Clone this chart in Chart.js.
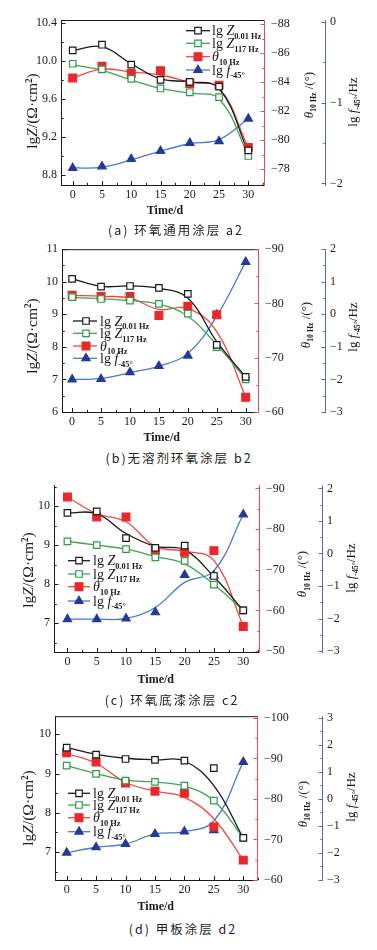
<!DOCTYPE html>
<html lang="zh">
<head>
<meta charset="utf-8">
<title>EIS parameters vs time</title>
<script src="https://cdn.jsdelivr.net/npm/chart.js@4.4.1/dist/chart.umd.min.js"></script>
<style>
  html, body { margin:0; padding:0; background:#fff; }
  body { position:relative; width:377px; height:950px; overflow:hidden; }
  canvas { position:absolute; left:0; }
  .cap { position:absolute; white-space:nowrap; transform:translate(-50%,-50%); line-height:16px;
         font-family:"Noto Sans CJK SC", sans-serif; font-size:12.5px; letter-spacing:2px; color:#222; }
</style>
</head>
<body>
<canvas id="ca" width="377" height="222" style="top:0px"></canvas>
<canvas id="cb" width="377" height="212" style="top:236px"></canvas>
<canvas id="cc" width="377" height="218" style="top:472px"></canvas>
<canvas id="cd" width="377" height="215" style="top:703px"></canvas>
<div class="cap" style="left:176px;top:230px">(a) 环氧通用涂层 a2</div>
<div class="cap" style="left:179px;top:458px">(b)无溶剂环氧涂层 b2</div>
<div class="cap" style="left:172px;top:700px">(c) 环氧底漆涂层 c2</div>
<div class="cap" style="left:183px;top:929px">(d) 甲板涂层 d2</div>
<script>
// ─── Data ─────────────────────────────────────────────────────────────────────
const days   = [0, 5, 10, 15, 20, 25, 30];
const xTicks = [0, 5, 10, 15, 20, 25, 30];

// (a) 环氧通用涂层 a2
const aZ001    = [10.11, 10.17, 9.96, 9.80, 9.78, 9.73, 9.06];
const aZ001Fit = [10.11, 10.15, 9.97, 9.81, 9.78, 9.71, 9.04];
const aZ117    = [9.97, 9.91, 9.81, 9.71, 9.67, 9.62, 9.00];
const aZ117Fit = [9.96, 9.90, 9.80, 9.71, 9.66, 9.60, 9.01];
const aTh      = [-84.3, -85.1, -84.6, -84.8, -83.9, -83.8, -79.5];
const aThFit   = [-84.3, -84.9, -84.7, -84.5, -84.0, -83.6, -79.5];
const aF       = [-1.81, -1.79, -1.70, -1.60, -1.50, -1.48, -1.20];
const aFFit    = [-1.81, -1.80, -1.71, -1.60, -1.51, -1.46, -1.20];
const aZTicks  = [8.8, 9.2, 9.6, 10.0, 10.4];
const aThTicks = [-88, -86, -84, -82, -80, -78];
const aFTicks  = [-2, -1, 0];

// (b) 无溶剂环氧涂层 b2
const bZ001    = [10.09, 9.85, 9.87, 9.81, 9.63, 8.06, 7.08];
const bZ001Fit = [10.09, 9.86, 9.87, 9.80, 9.50, 8.16, 7.08];
const bZ117    = [9.53, 9.47, 9.42, 9.32, 9.02, 7.99, 7.00];
const bZ117Fit = [9.52, 9.48, 9.42, 9.31, 8.94, 8.06, 7.02];
const bTh      = [-81.5, -81.3, -81.3, -77.8, -79.5, -77.9, -62.7];
const bThFit   = [-81.5, -81.3, -81.0, -78.9, -79.1, -74.8, -62.8];
const bF       = [-2.00, -1.99, -1.78, -1.59, -1.27, -0.01, 1.61];
const bFFit    = [-2.00, -1.97, -1.79, -1.59, -1.20, -0.05, 1.61];
const bZTicks  = [6, 7, 8, 9, 10, 11];
const bThTicks = [-90, -80, -70, -60];
const bFTicks  = [-3, -2, -1, 0, 1, 2];

// (c) 环氧底漆涂层 c2
const cZ001    = [9.83, 9.87, 9.18, 8.93, 8.99, 8.21, 7.33];
const cZ001Fit = [9.83, 9.81, 9.30, 8.97, 8.88, 8.19, 7.33];
const cZ117    = [9.10, 9.00, 8.90, 8.69, 8.60, 7.99, 7.33];
const cZ117Fit = [9.10, 9.00, 8.90, 8.71, 8.52, 7.99, 7.33];
const cTh      = [-87.9, -83.0, -83.0, -74.7, -74.3, -74.7, -56.0];
const cThFit   = [-87.9, -83.8, -81.8, -75.7, -74.6, -72.3, -56.2];
const cF       = [-2.02, -2.02, -2.00, -1.81, -0.66, -0.68, 1.20];
const cFFit    = [-2.02, -2.02, -2.00, -1.66, -0.89, -0.53, 1.20];
const cZTicks  = [7, 8, 9, 10];
const cThTicks = [-90, -80, -70, -60, -50];
const cFTicks  = [-3, -2, -1, 0, 1, 2];

// (d) 甲板涂层 d2
const dZ001    = [9.66, 9.48, 9.37, 9.35, 9.33, 9.14, 7.36];
const dZ001Fit = [9.66, 9.49, 9.39, 9.35, 9.32, 8.69, 7.36];
const dZ117    = [9.20, 8.99, 8.82, 8.79, 8.69, 8.31, 7.36];
const dZ117Fit = [9.20, 9.00, 8.83, 8.78, 8.68, 8.31, 7.36];
const dTh      = [-91.4, -89.1, -83.9, -81.9, -81.4, -73.1, -64.9];
const dThFit   = [-91.2, -88.8, -84.1, -81.9, -80.4, -75.1, -64.9];
const dF       = [-1.99, -1.79, -1.67, -1.30, -1.21, -1.16, 1.36];
const dFFit    = [-1.99, -1.79, -1.67, -1.30, -1.21, -0.82, 1.36];
const dZTicks  = [7, 8, 9, 10];
const dThTicks = [-100, -90, -80, -70, -60];
const dFTicks  = [-3, -2, -1, 0, 1, 2, 3];

// ─── Styles ───────────────────────────────────────────────────────────────────
const SERIF = '"Liberation Serif", "DejaVu Serif", serif';
const INK = '#1a1a1a';
const RED_AX = '#e85050', BLUE_AX = '#4a6fb8';
const ST = {
  z001: { line:INK,       edge:INK,       fill:'#fff',    shape:'rect',     r:4.6 },
  z117: { line:'#3aa655', edge:'#2f9a4a', fill:'#fff',    shape:'rect',     r:4.6 },
  th:   { line:'#ee4a3c', edge:'#e8282a', fill:'#e8282a', shape:'rect',     r:5.5 },
  f:    { line:'#4a7acc', edge:'#26389a', fill:'#26389a', shape:'triangle', r:4.8 },
};
const LEG_TXT = {
  z001: [{t:'lg '}, {t:'Z', i:1}, {t:'0.01 Hz', sub:1}],
  z117: [{t:'lg '}, {t:'Z', i:1}, {t:'117 Hz', sub:1}],
  th:   [{t:'θ', i:1}, {t:'10 Hz', sub:1}],
  f:    [{t:'lg '}, {t:'f', i:1}, {t:'-45°', sub:1}],
};
const T_LEFT = [{t:'lg'}, {t:'Z', i:1}, {t:'/(Ω·cm'}, {t:'2', sup:1}, {t:')'}];
const T_RED  = [{t:'θ', i:1}, {t:'10 Hz', sub:1}, {t:' /(°)'}];
const T_BLUE = [{t:'lg '}, {t:'f', i:1}, {t:'-45°', sub:1}, {t:'/Hz'}];

// ─── Rich text helpers ────────────────────────────────────────────────────────
function pFont(p, size) {
  const sz = (p.sub || p.sup) ? size * 0.6 : size;
  return (p.i ? 'italic ' : '') + ((p.sub || p.sup) ? 'bold ' : '') + sz + 'px ' + SERIF;
}
function richWidth(ctx, parts, size) {
  let w = 0;
  parts.forEach(p => { ctx.font = pFont(p, size); w += ctx.measureText(p.t).width; });
  return w;
}
function drawRich(ctx, parts, x, y, size, center) {
  ctx.textAlign = 'left'; ctx.textBaseline = 'alphabetic';
  let cx = center ? x - richWidth(ctx, parts, size) / 2 : x;
  parts.forEach(p => {
    ctx.font = pFont(p, size);
    const dy = p.sub ? size * 0.28 : p.sup ? -size * 0.38 : 0;
    ctx.fillText(p.t, cx, y + dy);
    cx += ctx.measureText(p.t).width;
  });
}
function drawRotated(ctx, parts, cx, cy, size) {
  ctx.save();
  ctx.translate(cx, cy);
  ctx.rotate(-Math.PI / 2);
  ctx.fillStyle = INK;
  drawRich(ctx, parts, 0, size * 0.35, size, true);
  ctx.restore();
}
function marker(ctx, s, x, y) {
  ctx.beginPath();
  if (s.shape === 'rect') {
    const h = s.r * Math.SQRT1_2;
    ctx.rect(x - h, y - h, 2 * h, 2 * h);
  } else {
    const k = Math.sin(Math.PI / 3) * s.r;
    ctx.moveTo(x, y - s.r); ctx.lineTo(x + k, y + s.r / 2); ctx.lineTo(x - k, y + s.r / 2); ctx.closePath();
  }
  ctx.fillStyle = s.fill; ctx.fill();
  ctx.lineWidth = 1.2; ctx.strokeStyle = s.edge; ctx.stroke();
}
const fmtNum = dec => v => (+v).toFixed(dec).replace('-', '−');

// ─── Axis decoration: frame, inward ticks, titles, legend ─────────────────────
function decoPlugin(G, AX) {
  return {
    id: 'deco',
    afterDraw(chart) {
      const { ctx, chartArea: a, scales } = chart;
      const top = a.top, bot = a.bottom, L = a.left, R = a.right;
      const bx = scales.y2.left;
      const line = (x1, y1, x2, y2) => { ctx.moveTo(x1, y1); ctx.lineTo(x2, y2); };
      const minors = (min, max, step, majors) => {
        const out = [];
        for (let k = Math.ceil(min / step - 1e-9); k * step <= max + 1e-9; k++) {
          const v = +(k * step).toFixed(6);
          if (!majors.some(m => Math.abs(m - v) < 1e-6)) out.push(v);
        }
        return out;
      };
      const vTicks = (scale, x, dir, majors, step) => {
        majors.forEach(v => { const y = Math.round(scale.getPixelForValue(v)) + 0.5; line(x, y, x + dir * 4, y); });
        minors(Math.min(scale.min, scale.max), Math.max(scale.min, scale.max), step, majors)
          .forEach(v => { const y = Math.round(scale.getPixelForValue(v)) + 0.5; line(x, y, x + dir * 2.2, y); });
      };
      ctx.save();
      ctx.lineWidth = 1;
      // black frame + left / bottom ticks
      ctx.strokeStyle = INK;
      ctx.beginPath();
      line(L + 0.5, top, L + 0.5, bot + 1);
      line(L, bot + 0.5, R, bot + 0.5);
      if (G.topLine) line(L, top + 0.5, R, top + 0.5);
      vTicks(scales.y, L + 0.5, 1, AX.zTicks, AX.zMinor);
      xTicks.forEach(v => { const x = Math.round(scales.x.getPixelForValue(v)) + 0.5; line(x, bot, x, bot - 4); });
      minors(scales.x.min, scales.x.max, 2.5, xTicks)
        .forEach(v => { const x = Math.round(scales.x.getPixelForValue(v)) + 0.5; line(x, bot, x, bot - 2.2); });
      ctx.stroke();
      // red θ axis
      ctx.strokeStyle = RED_AX;
      ctx.beginPath();
      line(R - 0.5, top, R - 0.5, bot + 1);
      vTicks(scales.y1, R - 0.5, -1, AX.thTicks, AX.thMinor);
      ctx.stroke();
      // blue f axis
      ctx.strokeStyle = BLUE_AX;
      ctx.beginPath();
      line(bx + 0.5, top, bx + 0.5, bot + 1);
      vTicks(scales.y2, bx + 0.5, -1, AX.fTicks, AX.fMinor);
      ctx.stroke();
      // axis titles
      const ct = G.ct;
      drawRotated(ctx, T_LEFT, G.lx, G.ly - ct, 15.5);
      drawRotated(ctx, T_RED, G.rx, G.ry - ct, 13);
      drawRotated(ctx, T_BLUE, G.bx, G.by - ct, 13);
      ctx.fillStyle = INK;
      ctx.font = 'bold 12px ' + SERIF;
      ctx.textAlign = 'center'; ctx.textBaseline = 'middle';
      ctx.fillText('Time/d', G.timeX, G.timeY - ct);
      // legend
      ['z001', 'z117', 'th', 'f'].forEach((k, i) => {
        const s = ST[k], y = G.leg.rows[i] - ct;
        ctx.beginPath(); ctx.strokeStyle = s.line; ctx.lineWidth = 1.3;
        line(G.leg.x0, y, G.leg.x1, y); ctx.stroke();
        marker(ctx, s, G.leg.mx, y);
        ctx.fillStyle = INK;
        drawRich(ctx, LEG_TXT[k], G.leg.tx, y + 4.5, 14, false);
      });
      ctx.restore();
    }
  };
}

// ─── Panel builder ────────────────────────────────────────────────────────────
function series(key, pts, fit, axisID) {
  const s = ST[key];
  const xy = arr => days.map((d, i) => ({ x: d, y: arr[i] }));
  return [
    { data: xy(fit), yAxisID: axisID, borderColor: s.line, borderWidth: 1.3, tension: 0.4,
      pointRadius: 0, fill: false, order: 2 },
    { data: xy(pts), yAxisID: axisID, showLine: false, pointStyle: s.shape, pointRadius: s.r,
      pointBorderWidth: 1.2, pointBorderColor: s.edge, pointBackgroundColor: s.fill, order: 1 },
  ];
}

function makePanel(id, D, AX, G) {
  const tickFont = { family: SERIF, size: 12 };
  const yAxis = (pos, range, ticks, fmt, pad, width, extra) => Object.assign({
    type: 'linear', position: pos, min: range[0], max: range[1],
    grid: { display: false, drawTicks: false }, border: { display: false },
    ticks: { font: tickFont, color: INK, padding: pad, callback: fmt, autoSkip: false },
    afterBuildTicks: s => { s.ticks = ticks.map(v => ({ value: v })); },
    afterFit: s => { s.width = width; },
  }, extra || {});

  new Chart(document.getElementById(id), {
    type: 'line',
    data: { datasets: [
      ...series('z001', D.z001, D.z001Fit, 'y'),
      ...series('z117', D.z117, D.z117Fit, 'y'),
      ...series('th', D.th, D.thFit, 'y1'),
      ...series('f', D.f, D.fFit, 'y2'),
    ] },
    options: {
      responsive: false, animation: false, events: [],
      layout: { padding: { top: G.pt - G.ct, left: 0, right: 0, bottom: 0 } },
      plugins: { legend: { display: false }, tooltip: { enabled: false } },
      scales: {
        x: {
          type: 'linear', min: AX.x[0], max: AX.x[1],
          grid: { display: false, drawTicks: false }, border: { display: false },
          ticks: { font: tickFont, color: INK, padding: 3, maxRotation: 0, autoSkip: false },
          afterBuildTicks: s => { s.ticks = xTicks.map(v => ({ value: v })); },
          afterFit: s => { s.height = G.cb - G.pb; },
        },
        y:  yAxis('left', AX.z, AX.zTicksArr, fmtNum(AX.zDec), 4, G.L),
        y1: yAxis('right', AX.th, AX.thTicks, fmtNum(0), 6, G.B - G.R, { reverse: true, weight: 0 }),
        y2: yAxis('right', AX.f, AX.fTicks, fmtNum(0), 5, 377 - G.B, { weight: 1 }),
      },
    },
    plugins: [decoPlugin(G, AX)],
  });
}

makePanel('ca',
  { z001:aZ001, z001Fit:aZ001Fit, z117:aZ117, z117Fit:aZ117Fit, th:aTh, thFit:aThFit, f:aF, fFit:aFFit },
  { x:[-2, 32.85], z:[8.695, 10.43], zTicksArr:aZTicks, zTicks:aZTicks, zDec:1, zMinor:0.2,
    th:[-88.3, -76.9], thTicks:aThTicks, thMinor:1, f:[-2.02, 0.02], fTicks:aFTicks, fMinor:0.5 },
  { ct:0, cb:222, L:61, R:265, B:325, pt:20, pb:185, topLine:true,
    lx:32, ly:111, rx:308, ry:95, bx:352, by:102, timeX:165, timeY:211,
    leg:{ x0:186, x1:210, mx:198, tx:212, rows:[30.7, 43.3, 56.7, 70] } });

makePanel('cb',
  { z001:bZ001, z001Fit:bZ001Fit, z117:bZ117, z117Fit:bZ117Fit, th:bTh, thFit:bThFit, f:bF, fFit:bFFit },
  { x:[-1.75, 32.3], z:[6, 11], zTicksArr:bZTicks, zTicks:bZTicks, zDec:0, zMinor:0.5,
    th:[-90, -60], thTicks:bThTicks, thMinor:5, f:[-3, 2], fTicks:bFTicks, fMinor:0.5 },
  { ct:236, cb:448, L:62, R:259, B:325, pt:249, pb:412, topLine:true,
    lx:31.7, ly:336, rx:305, ry:325, bx:352, by:327, timeX:161.7, timeY:437.7,
    leg:{ x0:73, x1:97, mx:86, tx:100, rows:[321, 333.3, 346, 358.3] } });

makePanel('cc',
  { z001:cZ001, z001Fit:cZ001Fit, z117:cZ117, z117Fit:cZ117Fit, th:cTh, thFit:cThFit, f:cF, fFit:cFFit },
  { x:[-2.29, 32.86], z:[6.26, 10.54], zTicksArr:cZTicks, zTicks:cZTicks, zDec:0, zMinor:0.5,
    th:[-90.8, -49.75], thTicks:cThTicks, thMinor:5, f:[-3.03, 2.1], fTicks:cFTicks, fMinor:0.5 },
  { ct:472, cb:690, L:54, R:260, B:322, pt:485, pb:652, topLine:false,
    lx:28, ly:570, rx:301.7, ry:574, bx:350, by:568, timeX:155.8, timeY:680,
    leg:{ x0:68, x1:90, mx:79, tx:93, rows:[560.7, 574, 586.7, 601] } });

makePanel('cd',
  { z001:dZ001, z001Fit:dZ001Fit, z117:dZ117, z117Fit:dZ117Fit, th:dTh, thFit:dThFit, f:dF, fFit:dFFit },
  { x:[-1.98, 32.5], z:[6.29, 10.46], zTicksArr:dZTicks, zTicks:dZTicks, zDec:0, zMinor:0.5,
    th:[-100.4, -60], thTicks:dThTicks, thMinor:5, f:[-3, 3.05], fTicks:dFTicks, fMinor:0.5 },
  { ct:703, cb:918, L:55, R:258, B:322, pt:715, pb:880, topLine:true,
    lx:28, ly:808, rx:302, ry:804, bx:350, by:797, timeX:155.8, timeY:906.7,
    leg:{ x0:68, x1:90, mx:79, tx:93, rows:[793.3, 805, 817.7, 831.7] } });
</script>
</body>
</html>
